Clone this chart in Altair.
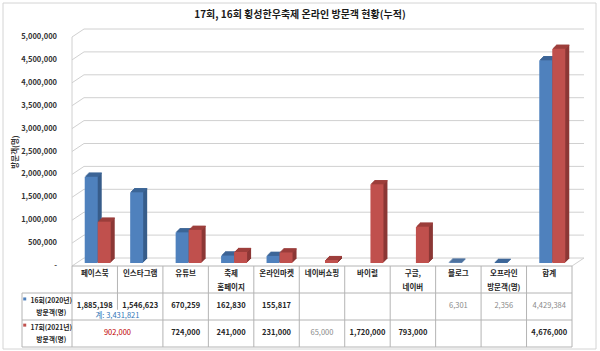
import altair as alt
import pandas as pd

# ---------------- data ----------------
CATEGORIES = ["페이스북", "인스타그램", "유튜브", "축제\n홈페이지", "온라인마켓", "네이버쇼핑",
              "바이럴", "구글,\n네이버", "블로그", "오프라인\n방문객(명)", "합계"]
VISITORS_16 = [1885198, 1546623, 670259, 162830, 155817, None, None, None, 6301, 2356, 4429384]
VISITORS_17 = [902000, None, 724000, 241000, 231000, 65000, 1720000, 793000, None, None, 4676000]
SERIES = ["16회(2020년)", "17회(2021년)"]
ROW_SUBLABEL = "방문객(명)"
TITLE = "17회, 16회 횡성한우축제 온라인 방문객 현황(누적)"
Y_TITLE = "방문객(명)"
Y_TICKS = list(range(0, 5000001, 500000))
SUBTOTAL_16 = ["페이스북", "인스타그램"]      # "계:" note under these two cells
MERGED_17 = ["페이스북", "인스타그램"]        # 17회 value spans these two cells
MUTED_16 = ["블로그", "오프라인\n방문객(명)", "합계"]
MUTED_17 = ["네이버쇼핑"]

# ---------------- layout / style ----------------
FONT = "Noto Sans CJK KR"
W = 510
FLOOR = 229          # px from 5,000,000 line to the floor
ROW = 27             # table row height (px)
NROWS = 3
H = FLOOR + ROW * NROWS
YMAX = 5000000
ROW_UNIT = YMAX * ROW / FLOOR       # one table row expressed in y-scale units
YMIN = -ROW_UNIT * NROWS
BLUE, BLUE_D, BLUE_T = "#4F81BD", "#385D8A", "#3D6698"
RED, RED_D, RED_T = "#C0504D", "#8C3836", "#9E3F3C"
GRID = "#D0D0D0"
TABLE_LINE = "#B4B4B4"
TXT = "#262626"
MUTED = "#8A8A8A"
BAR_W = 13
DEPTH = 4
WALL_DX, WALL_DY = 12, -8

n = len(CATEGORIES)
xs = alt.Scale(domain=[-0.5, n - 0.5], nice=False, zero=False)
ys = alt.Scale(domain=[YMIN, YMAX], nice=False, zero=False)


def fmt(v):
    return f"{int(v):,}"


def row_pos(r):
    """table row coordinate (0 = table top, growing downward) -> y-scale units"""
    return -r * ROW_UNIT


X = lambda f: alt.X(f, scale=xs, axis=None)
Y = lambda f: alt.Y(f, scale=ys, axis=None)

# ---------------- bars ----------------
rows = []
for i, c in enumerate(CATEGORIES):
    for s, vals in zip(SERIES, [VISITORS_16, VISITORS_17]):
        if vals[i] is not None:
            rows.append({"idx": i, "category": c, "series": s, "value": vals[i], "zero": 0})
df_bars = pd.DataFrame(rows)

layers = []

grid_df = pd.DataFrame({"v": Y_TICKS, "x0": [-0.5] * len(Y_TICKS), "x1": [n - 0.5] * len(Y_TICKS),
                        "lab": ["-" if v == 0 else fmt(v) for v in Y_TICKS]})
# back wall lines
layers.append(alt.Chart(grid_df).mark_rule(color=GRID, strokeWidth=1, xOffset=WALL_DX,
                                           x2Offset=WALL_DX, yOffset=WALL_DY).encode(
    y=Y("v:Q"), x=X("x0:Q"), x2="x1:Q"))
# left wall diagonals
layers.append(alt.Chart(grid_df).mark_rule(color=GRID, strokeWidth=1, x2Offset=WALL_DX,
                                           y2Offset=WALL_DY).encode(
    y=Y("v:Q"), y2="v:Q", x=X("x0:Q"), x2="x0:Q"))
# y tick labels (through the y scale)
layers.append(alt.Chart(grid_df).mark_text(font=FONT, fontSize=7.5, fontWeight="bold",
                                           color="#333333", align="right", baseline="middle").encode(
    y=Y("v:Q"), x=alt.value(-10), text="lab:N"))
# left edge + floor right edge
edge_df = pd.DataFrame({"x0": [-0.5], "x1": [n - 0.5], "y0": [0], "y1": [YMAX]})
layers.append(alt.Chart(edge_df).mark_rule(color=GRID).encode(
    x=X("x0:Q"), y=Y("y0:Q"), y2="y1:Q"))
layers.append(alt.Chart(edge_df).mark_rule(color=GRID, x2Offset=WALL_DX, y2Offset=WALL_DY).encode(
    x=X("x1:Q"), x2="x1:Q", y=Y("y0:Q"), y2="y0:Q"))

for s, front, dark, top, xoff in [(SERIES[0], BLUE, BLUE_D, BLUE_T, -3.5),
                                  (SERIES[1], RED, RED_D, RED_T, 9.5)]:
    base = alt.Chart(df_bars).transform_filter(alt.datum.series == s)
    enc = dict(x=X("idx:Q"), y=Y("value:Q"), y2="zero:Q")
    # side face (stepped extrusion)
    for k in range(DEPTH, 0, -1):
        layers.append(base.mark_bar(width=BAR_W, color=dark, xOffset=xoff + k,
                                    yOffset=-3 - k, y2Offset=-3 - k).encode(**enc))
    # top face (parallelogram built from 1px lines)
    for k in range(1, DEPTH + 1):
        layers.append(base.mark_rule(color=top, strokeWidth=1.2,
                                     xOffset=xoff - BAR_W / 2 + k, x2Offset=xoff + BAR_W / 2 + k,
                                     yOffset=-3 - k + 0.5).encode(
            x=X("idx:Q"), x2="idx:Q", y=Y("value:Q")))
    layers.append(base.mark_bar(width=BAR_W, color=front, xOffset=xoff,
                                yOffset=-3, y2Offset=-3).encode(**enc))

# ---------------- table ----------------
LEFT = -1.6
lines = []
lines.append({"x": -0.5, "x2": n - 0.5, "y": 0, "y2": 0})
for r in range(1, NROWS + 1):
    lines.append({"x": LEFT, "x2": n - 0.5, "y": r, "y2": r})
lines.append({"x": LEFT, "x2": LEFT, "y": 1, "y2": NROWS})
for k in range(n + 1):
    b = k - 0.5
    lines.append({"x": b, "x2": b, "y": 0, "y2": 1.62 if k == 1 else NROWS})
df_lines = pd.DataFrame(lines)
df_lines["y"] = df_lines["y"].map(row_pos)
df_lines["y2"] = df_lines["y2"].map(row_pos)
layers.append(alt.Chart(df_lines).mark_rule(color=TABLE_LINE, strokeWidth=1).encode(
    x=X("x:Q"), x2="x2:Q", y=Y("y:Q"), y2="y2:Q"))

hdr = pd.DataFrame({"idx": list(range(n)),
                    "l1": [c.split("\n")[0] for c in CATEGORIES],
                    "l2": [c.split("\n")[1] if "\n" in c else "" for c in CATEGORIES],
                    "y1": [row_pos(0.28)] * n, "y2": [row_pos(0.80)] * n})
for lf, yf in [("l1", "y1"), ("l2", "y2")]:
    layers.append(alt.Chart(hdr).mark_text(font=FONT, fontSize=7.5, fontWeight="bold",
                                           color=TXT, baseline="middle").encode(
        x=X("idx:Q"), y=Y(f"{yf}:Q"), text=f"{lf}:N"))

rl = pd.DataFrame({"label": SERIES, "sub": [ROW_SUBLABEL] * 2, "x": [-1.0, -1.0],
                   "ya": [row_pos(1.30), row_pos(2.30)], "yb": [row_pos(1.74), row_pos(2.74)],
                   "xm": [-1.54, -1.54], "ym": [row_pos(1.22), row_pos(2.19)]})
for tf, yf in [("label", "ya"), ("sub", "yb")]:
    layers.append(alt.Chart(rl).mark_text(font=FONT, fontSize=6.8, fontWeight="bold",
                                          color=TXT, baseline="middle", dx=2).encode(
        x=X("x:Q"), y=Y(f"{yf}:Q"), text=f"{tf}:N"))
layers.append(alt.Chart(rl).mark_square(size=9, opacity=1).encode(
    x=X("xm:Q"), y=Y("ym:Q"),
    color=alt.Color("label:N", scale=alt.Scale(domain=SERIES, range=[BLUE, RED]), legend=None)))

cells = []
for i, c in enumerate(CATEGORIES):
    v = VISITORS_16[i]
    if v is not None:
        cells.append({"x": i, "y": row_pos(1.48), "text": fmt(v),
                      "kind": "muted" if c in MUTED_16 else "normal"})
    v = VISITORS_17[i]
    if v is not None:
        if c == MERGED_17[0]:
            xm = sum(CATEGORIES.index(m) for m in MERGED_17) / len(MERGED_17)
            cells.append({"x": xm, "y": row_pos(2.48), "text": fmt(v), "kind": "merged"})
        else:
            cells.append({"x": i, "y": row_pos(2.48), "text": fmt(v),
                          "kind": "muted" if c in MUTED_17 else "normal"})
sub_idx = [CATEGORIES.index(m) for m in SUBTOTAL_16]
cells.append({"x": sum(sub_idx) / len(sub_idx), "y": row_pos(1.84),
              "text": "계: " + fmt(sum(VISITORS_16[j] for j in sub_idx)), "kind": "subtotal"})
df_cells = pd.DataFrame(cells)

for kind, color, weight in [("normal", TXT, "bold"), ("muted", MUTED, "normal"),
                            ("merged", "#C00000", "normal"), ("subtotal", "#2E75B6", "normal")]:
    layers.append(alt.Chart(df_cells).transform_filter(alt.datum.kind == kind).mark_text(
        font=FONT, fontSize=7.5, fontWeight=weight, color=color, baseline="middle").encode(
        x=X("x:Q"), y=Y("y:Q"), text="text:N"))

# ---------------- decorations (pixel-placed frame, title, axis title) ----------------
one = pd.DataFrame({"t": [TITLE], "yt": [Y_TITLE]})
layers.append(alt.Chart(one).mark_rect(fill="transparent", stroke="#D4D4D4", strokeWidth=1).encode(
    x=alt.value(-64), x2=alt.value(529), y=alt.value(-34), y2=alt.value(312)))
layers.append(alt.Chart(one).mark_text(font=FONT, fontSize=10, fontWeight="bold", color="#1a1a1a",
                                       baseline="middle").encode(
    text="t:N", x=alt.value(233), y=alt.value(-22)))
layers.append(alt.Chart(one).mark_text(font=FONT, fontSize=7.5, fontWeight="bold", color="#333333",
                                       baseline="middle", angle=270).encode(
    text="yt:N", x=alt.value(-51), y=alt.value(115)))

chart = alt.layer(*layers).properties(
    width=W, height=H, autosize="none",
    padding={"left": 67, "top": 37, "right": 23, "bottom": 4},
    background="white"
).configure_view(stroke=None)

chart.save("out.html", embed_options={"renderer": "svg", "actions": False})
